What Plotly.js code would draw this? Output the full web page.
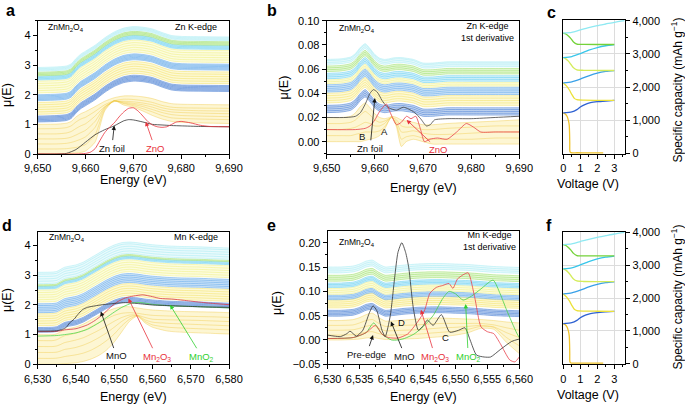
<!DOCTYPE html>
<html><head><meta charset="utf-8">
<script src="https://cdn.plot.ly/plotly-3.0.1.min.js"></script>
<style>html,body{margin:0;padding:0;background:#fff}#chart{width:685px;height:404px}</style>
</head><body><div id="chart"></div>
<script>
// ---------- Panel a: Zn K-edge XANES ----------
const E_A = [9650, 9654, 9656, 9657, 9658, 9659, 9660, 9662, 9664, 9666, 9668, 9670, 9672, 9674, 9676, 9678, 9680, 9684, 9690];
const SHAPE_A = [0, 0.02, 0.05, 0.12, 0.3, 0.45, 0.55, 0.75, 1.0, 1.2, 1.33, 1.38, 1.36, 1.3, 1.18, 1.08, 1.05, 1.04, 1.03];
const D1_A = [
  [0, 0, 0.01, 0.02, 0.03, 0.05, 0.1, 0.4, 1.45, 1.8, 1.65, 1.58, 1.45, 1.3, 1.18, 1.1, 1.07, 1.05, 1.03],
  [0.17, 0.17, 0.18, 0.2, 0.22, 0.26, 0.32, 0.65, 1.5, 1.8, 1.7, 1.63, 1.53, 1.42, 1.3, 1.22, 1.2, 1.18, 1.16],
  [0.34, 0.34, 0.36, 0.39, 0.44, 0.5, 0.58, 0.9, 1.55, 1.8, 1.72, 1.67, 1.6, 1.5, 1.4, 1.33, 1.3, 1.28, 1.26],
  [0.51, 0.51, 0.53, 0.57, 0.64, 0.72, 0.8, 1.1, 1.58, 1.78, 1.75, 1.71, 1.66, 1.58, 1.48, 1.42, 1.4, 1.38, 1.36],
  [0.68, 0.68, 0.71, 0.76, 0.86, 0.95, 1.02, 1.28, 1.6, 1.77, 1.78, 1.76, 1.72, 1.66, 1.56, 1.5, 1.48, 1.46, 1.45],
  [0.85, 0.86, 0.89, 0.95, 1.08, 1.18, 1.24, 1.44, 1.66, 1.8, 1.85, 1.84, 1.8, 1.74, 1.64, 1.58, 1.56, 1.55, 1.54],
  [1.0, 1.01, 1.04, 1.1, 1.25, 1.36, 1.43, 1.6, 1.78, 1.9, 1.96, 1.96, 1.93, 1.87, 1.77, 1.7, 1.68, 1.67, 1.66]
];
// stacked-band start values (C1, D2, C2, D3, C3, D4, C4)
const OFF_A = [
  [1.08, 1.12, 1.16, 1.20, 1.24, 1.28],
  [1.34, 1.42, 1.50, 1.58, 1.66, 1.74],
  [1.80, 1.84, 1.88, 1.92, 1.96, 2.00],
  [2.06, 2.14, 2.22, 2.30, 2.38, 2.46],
  [2.50, 2.54, 2.58, 2.62],
  [2.64, 2.68, 2.72, 2.76],
  [2.80, 2.84, 2.88, 2.92]
];
const ZNFOIL_A_E = [9650, 9654, 9656, 9658, 9660, 9662, 9664, 9666, 9668, 9669, 9670, 9672, 9674, 9676, 9678, 9680, 9684, 9690];
const ZNFOIL_A = [0, 0, 0.02, 0.15, 0.4, 0.65, 0.82, 0.95, 1.12, 1.16, 1.15, 1.08, 1.0, 0.98, 0.96, 0.95, 0.93, 0.92];
const ZNO_A_E = [9650, 9658, 9660, 9661, 9662, 9663, 9664, 9665, 9666, 9667, 9668, 9669, 9670, 9671, 9672, 9673, 9674, 9675, 9676, 9677, 9678, 9679, 9680, 9682, 9684, 9686, 9690];
const ZNO_A = [0, 0, 0.02, 0.06, 0.18, 0.45, 0.72, 0.9, 1.05, 1.25, 1.42, 1.54, 1.56, 1.45, 1.28, 1.1, 0.98, 0.92, 0.9, 0.92, 1.0, 1.08, 1.1, 1.05, 0.97, 0.93, 0.92];

// ---------- Panel b: Zn K-edge 1st derivative ----------
const E_B = [9650, 9653, 9655, 9656, 9657, 9658, 9659, 9660, 9661, 9662, 9663, 9663.5, 9664.5, 9665.5, 9666.5, 9668, 9670, 9672, 9675, 9680, 9685, 9690];
const SHAPE_B = [0, 0.0005, 0.002, 0.005, 0.010, 0.013, 0.009, 0.004, 0.001, 0.0, 0.0005, 0.001, 0.0015, 0.0015, 0.001, 0.0, -0.003, -0.003, -0.002, -0.002, -0.002, -0.002];
const D1_B = [
  [0, 0, 0, 0, 0, 0.001, 0.002, 0.003, 0.005, 0.01, 0.018, 0.021, 0.012, -0.004, 0.0, 0.002, 0.0, -0.002, -0.002, -0.002, -0.002, -0.002],
  [0.005, 0.005, 0.005, 0.006, 0.007, 0.008, 0.008, 0.008, 0.009, 0.012, 0.018, 0.02, 0.014, 0.002, 0.004, 0.005, 0.003, 0.002, 0.002, 0.002, 0.003, 0.003],
  [0.010, 0.010, 0.011, 0.012, 0.014, 0.016, 0.015, 0.013, 0.013, 0.015, 0.019, 0.02, 0.016, 0.008, 0.008, 0.009, 0.007, 0.006, 0.006, 0.007, 0.008, 0.008],
  [0.015, 0.015, 0.016, 0.018, 0.022, 0.025, 0.022, 0.018, 0.016, 0.017, 0.019, 0.02, 0.018, 0.013, 0.012, 0.012, 0.01, 0.01, 0.011, 0.012, 0.013, 0.013],
  [0.020, 0.020, 0.021, 0.024, 0.029, 0.032, 0.028, 0.023, 0.020, 0.019, 0.02, 0.021, 0.02, 0.018, 0.017, 0.016, 0.014, 0.014, 0.015, 0.016, 0.017, 0.018]
];
const OFF_B = [
  [0.024, 0.0255, 0.027, 0.0285, 0.030],
  [0.032, 0.034, 0.036, 0.038, 0.040],
  [0.041, 0.0425, 0.044, 0.0455, 0.047],
  [0.048, 0.0495, 0.051],
  [0.052, 0.0535, 0.055, 0.0565],
  [0.058, 0.0595, 0.061, 0.0625],
  [0.064, 0.0655, 0.067, 0.068]
];
const ZNFOIL_B_E = [9650, 9654, 9656, 9657, 9658, 9659, 9659.7, 9660.5, 9661.5, 9662.5, 9663.5, 9664.5, 9665.9, 9667, 9668.3, 9669.5, 9670.7, 9671.5, 9672.4, 9675, 9680, 9685, 9690];
const ZNFOIL_B = [0.020, 0.020, 0.021, 0.024, 0.031, 0.040, 0.043, 0.041, 0.034, 0.029, 0.027, 0.026, 0.0285, 0.027, 0.024, 0.019, 0.013, 0.014, 0.018, 0.019, 0.019, 0.020, 0.021];
const ZNO_B_E = [9650, 9656, 9658, 9659, 9660, 9661, 9662.4, 9663.2, 9664.5, 9665.5, 9666.6, 9667.5, 9668.5, 9669.5, 9670.3, 9671.4, 9673, 9675, 9677, 9679, 9680.5, 9682, 9685, 9690];
const ZNO_B = [0.010, 0.010, 0.011, 0.013, 0.018, 0.025, 0.031, 0.024, 0.014, 0.016, 0.021, 0.019, 0.021, 0.01, 0.0, 0.002, 0.003, 0.002, 0.008, 0.015, 0.012, 0.008, 0.008, 0.008];

// ---------- Panels c / f: voltage profiles (V, capacity mAh/g) ----------
const V_D1 = [2.35, 1.5, 0.8, 0.45, 0.39, 0.38, 0.37, 0.35, 0.3, 0.22, 0.12, 0.0];
const Q_D1 = [20, 20, 22, 25, 60, 300, 600, 850, 1000, 1120, 1190, 1224];
const V_C1 = [0, 0.5, 0.8, 1.0, 1.3, 1.6, 2.0, 2.5, 3.0];
const Q_C1 = [1224, 1250, 1320, 1400, 1480, 1530, 1560, 1580, 1597];
const V_D2 = [3.0, 2.0, 1.2, 0.8, 0.65, 0.5, 0.35, 0.2, 0];
const Q_D2 = [1597, 1600, 1605, 1620, 1660, 1780, 1920, 2030, 2125];
const V_C2 = [0, 0.5, 1.0, 1.5, 2.0, 2.5, 3.0];
const Q_C2 = [2126, 2160, 2240, 2340, 2420, 2470, 2497];
const V_D3 = [3.0, 2.0, 1.2, 0.8, 0.6, 0.45, 0.3, 0.15, 0];
const Q_D3 = [2500, 2500, 2505, 2520, 2580, 2680, 2780, 2850, 2890];
const V_C3 = [0, 0.5, 1.0, 1.5, 2.0, 2.5, 3.0];
const Q_C3 = [2890, 2920, 3010, 3110, 3190, 3245, 3279];
const V_D4 = [3.0, 2.0, 1.2, 0.8, 0.6, 0.45, 0.3, 0.15, 0];
const Q_D4 = [3282, 3282, 3285, 3295, 3360, 3460, 3540, 3600, 3625];
const V_C4 = [0, 0.5, 1.0, 1.5, 2.0, 2.5, 3.0, 3.6];
const Q_C4 = [3625, 3650, 3720, 3790, 3850, 3900, 3950, 4000];

// ---------- Panel d: Mn K-edge XANES ----------
const E_D = [6530, 6534, 6535, 6536, 6537, 6538, 6540, 6542, 6544, 6546, 6548, 6550, 6552, 6554, 6556, 6558, 6560, 6564, 6568, 6572, 6576, 6580];
const SHAPE_D = [0, 0.01, 0.03, 0.1, 0.17, 0.2, 0.25, 0.35, 0.5, 0.65, 0.8, 0.92, 1.0, 1.02, 1.0, 0.96, 0.93, 0.89, 0.87, 0.86, 0.84, 0.82];
const D1_D = [
  [0, 0, 0, 0.01, 0.02, 0.03, 0.05, 0.1, 0.18, 0.3, 0.48, 0.75, 1.1, 1.45, 1.62, 1.4, 1.25, 1.12, 1.08, 1.06, 1.04, 1.02],
  [0.2, 0.2, 0.21, 0.23, 0.26, 0.28, 0.32, 0.38, 0.48, 0.62, 0.8, 1.02, 1.3, 1.52, 1.64, 1.45, 1.33, 1.25, 1.22, 1.2, 1.18, 1.16],
  [0.4, 0.4, 0.41, 0.45, 0.5, 0.52, 0.57, 0.65, 0.76, 0.9, 1.06, 1.25, 1.45, 1.6, 1.65, 1.5, 1.42, 1.38, 1.36, 1.34, 1.32, 1.3],
  [0.6, 0.6, 0.62, 0.67, 0.73, 0.76, 0.82, 0.9, 1.02, 1.15, 1.3, 1.45, 1.58, 1.66, 1.66, 1.58, 1.52, 1.5, 1.49, 1.48, 1.46, 1.44],
  [0.8, 0.8, 0.83, 0.9, 0.96, 0.99, 1.05, 1.14, 1.27, 1.4, 1.53, 1.65, 1.72, 1.74, 1.72, 1.68, 1.65, 1.63, 1.62, 1.61, 1.6, 1.58],
  [1.0, 1.0, 1.03, 1.1, 1.17, 1.2, 1.26, 1.36, 1.5, 1.64, 1.78, 1.88, 1.94, 1.94, 1.9, 1.86, 1.83, 1.8, 1.78, 1.77, 1.76, 1.74]
];
const OFF_D = [
  [1.08, 1.12, 1.16, 1.20, 1.24],
  [1.30, 1.38, 1.46, 1.54, 1.62, 1.70],
  [1.74, 1.80, 1.86, 1.92, 1.98, 2.04],
  [2.10, 2.18, 2.26, 2.34, 2.42, 2.50],
  [2.54, 2.58, 2.62],
  [2.64, 2.68],
  [2.72, 2.80, 2.88, 2.96, 3.04, 3.10]
];
const MNO_D_E = [6530, 6535, 6536.5, 6537.5, 6538.3, 6539.5, 6540.5, 6541.7, 6543, 6545, 6547, 6550, 6553, 6556, 6560, 6564, 6570, 6575, 6580];
const MNO_D = [1.12, 1.13, 1.18, 1.25, 1.39, 1.52, 1.68, 1.84, 1.92, 1.97, 2.01, 2.05, 2.08, 2.05, 2.0, 1.98, 1.95, 1.93, 1.92];
const MN2O3_D_E = [6530, 6535, 6537, 6540, 6543, 6545, 6547, 6549, 6551, 6553, 6555, 6557.5, 6560, 6562, 6565, 6568, 6572, 6576, 6580];
const MN2O3_D = [1.1, 1.11, 1.16, 1.2, 1.33, 1.48, 1.68, 1.92, 2.12, 2.24, 2.3, 2.34, 2.28, 2.22, 2.2, 2.16, 2.1, 2.05, 2.01];
const MNO2_D_E = [6530, 6535, 6537, 6540, 6543, 6546, 6548, 6550, 6552, 6554.8, 6557, 6560, 6565, 6570, 6575, 6580];
const MNO2_D = [0.95, 0.97, 1.0, 1.06, 1.18, 1.4, 1.58, 1.76, 1.92, 2.07, 2.08, 2.02, 1.97, 1.95, 1.93, 1.9];

// ---------- Panel e: Mn K-edge 1st derivative ----------
const E_E = [6530, 6532, 6534, 6535, 6536, 6537, 6538, 6539, 6540, 6542, 6544, 6546, 6548, 6550, 6552, 6554, 6556, 6558, 6560];
const SHAPE_E = [0, 0, 0.002, 0.006, 0.012, 0.014, 0.006, 0.0, 0.001, 0.004, 0.006, 0.007, 0.007, 0.006, 0.005, 0.003, 0.001, 0.0, -0.001];
const D1_E = [
  [0.0, 0.0, 0.001, 0.002, 0.004, 0.005, 0.003, 0.001, 0.001, 0.002, 0.003, 0.005, 0.007, 0.01, 0.015, 0.024, 0.022, -0.005, -0.028],
  [0.01, 0.01, 0.011, 0.013, 0.016, 0.017, 0.013, 0.01, 0.01, 0.011, 0.012, 0.014, 0.016, 0.018, 0.022, 0.028, 0.026, 0.005, -0.012],
  [0.02, 0.02, 0.021, 0.024, 0.028, 0.03, 0.024, 0.019, 0.019, 0.02, 0.021, 0.023, 0.025, 0.026, 0.028, 0.03, 0.027, 0.015, 0.005],
  [0.03, 0.03, 0.031, 0.035, 0.04, 0.042, 0.034, 0.028, 0.028, 0.03, 0.031, 0.033, 0.034, 0.034, 0.034, 0.034, 0.031, 0.025, 0.02],
  [0.04, 0.04, 0.042, 0.046, 0.052, 0.055, 0.046, 0.039, 0.039, 0.041, 0.043, 0.045, 0.045, 0.044, 0.043, 0.042, 0.04, 0.037, 0.035]
];
const OFF_E = [
  [0.049, 0.052, 0.055, 0.058, 0.061],
  [0.066, 0.070, 0.074, 0.078, 0.082],
  [0.083, 0.086, 0.089, 0.092],
  [0.094, 0.098, 0.102, 0.106],
  [0.108, 0.111, 0.114, 0.117],
  [0.121, 0.125, 0.129, 0.133],
  [0.138, 0.142, 0.146, 0.150]
];
const MNO_E_E = [6530, 6531, 6532, 6533, 6533.5, 6534.5, 6535.5, 6536.5, 6537.1, 6537.7, 6538.5, 6539, 6539.8, 6540.5, 6541, 6541.6, 6542.2, 6542.7, 6543.4, 6544.2, 6545, 6545.6, 6546.5, 6547.8, 6549.1, 6550.5, 6551.5, 6552.3, 6553.3, 6554.5, 6555.5, 6557, 6558.8, 6560];
const MNO_E = [0.010, 0.008, 0.007, 0.013, 0.018, 0.008, 0.02, 0.055, 0.070, 0.060, 0.02, 0.007, 0.05, 0.13, 0.18, 0.20, 0.18, 0.148, 0.066, 0.02, 0.03, 0.041, 0.03, 0.052, 0.016, 0.02, 0.025, 0.0, -0.031, -0.035, -0.035, -0.02, -0.003, 0.002];
const MN2O3_E_E = [6530, 6534, 6536, 6537.5, 6538.5, 6539.5, 6541, 6542.5, 6543.5, 6544.5, 6545.2, 6546, 6547, 6548, 6549, 6549.6, 6550.3, 6551.2, 6552, 6553, 6554, 6555, 6556, 6557, 6558.5, 6559.3, 6560];
const MN2O3_E = [0.003, 0.005, 0.015, 0.03, 0.012, 0.005, 0.004, 0.012, 0.027, 0.045, 0.062, 0.096, 0.108, 0.112, 0.116, 0.106, 0.125, 0.134, 0.138, 0.089, 0.027, 0.017, 0.013, -0.007, -0.041, -0.045, -0.035];
const MNO2_E_E = [6530, 6534, 6536, 6537.2, 6538.5, 6540, 6541, 6542, 6543.5, 6545, 6546.5, 6548, 6549, 6550, 6551.2, 6552.5, 6554, 6555.9, 6557, 6558, 6559.6, 6560];
const MNO2_E = [0.003, 0.005, 0.015, 0.035, 0.012, 0.0, 0.0, 0.003, 0.012, 0.028, 0.05, 0.085, 0.1, 0.095, 0.082, 0.09, 0.105, 0.123, 0.095, 0.062, 0.014, 0.005];

// ---------- styling ----------
const FONT = 'Liberation Sans, Arial, Helvetica, sans-serif';
const D1_COLOR = 'rgba(240,198,60,0.65)', D1_FILL = 'rgba(250,228,120,0.33)';
const BAND_COLORS = ['rgba(45,105,205,0.8)', 'rgba(240,218,70,0.7)', 'rgba(65,150,228,0.75)', 'rgba(236,236,110,0.75)', 'rgba(60,195,238,0.7)', 'rgba(135,215,75,0.75)', 'rgba(150,232,242,0.75)'];
const BAND_FILLS = ['rgba(95,145,220,0.33)', 'rgba(250,238,135,0.35)', 'rgba(115,180,238,0.33)', 'rgba(246,246,160,0.35)', 'rgba(120,212,242,0.3)', 'rgba(180,235,130,0.3)', 'rgba(195,242,247,0.35)'];
const VC_COLORS = ['#efc22a', '#2f62d2', '#ebe13a', '#38a0e8', '#d4ec5a', '#38c6ea', '#74d23a', '#8ee9f2'];

const traces = [];
function ln(xa, ya, x, y, color, width, extra) {
  return Object.assign({x, y, xaxis: xa, yaxis: ya, type: 'scatter', mode: 'lines',
    line: {color, width, shape: 'spline', smoothing: 0.6}, hoverinfo: 'skip', showlegend: false}, extra || {});
}
function band(xa, ya, x, rows, color, fill) {
  traces.push(ln(xa, ya, x, rows[0], color, 0.6));
  traces.push(ln(xa, ya, x, rows[rows.length - 1], color, 0.6, {fill: 'tonexty', fillcolor: fill}));
  for (let i = 1; i < rows.length - 1; i++) traces.push(ln(xa, ya, x, rows[i], color, 0.6));
}
function stacked(shape, offs) { return offs.map(o => shape.map(s => +(s + o).toFixed(5))); }
function spectra(xa, ya, x, d1, shape, offsets) {
  band(xa, ya, x, d1, D1_COLOR, D1_FILL);
  offsets.forEach((offs, i) => band(xa, ya, x, stacked(shape, offs), BAND_COLORS[i], BAND_FILLS[i]));
}

// a
spectra('x', 'y', E_A, D1_A, SHAPE_A, OFF_A);
traces.push(ln('x', 'y', ZNFOIL_A_E, ZNFOIL_A, '#333333', 0.8));
traces.push(ln('x', 'y', ZNO_A_E, ZNO_A, '#e8323c', 0.8));
// b
spectra('x2', 'y2', E_B, D1_B, SHAPE_B, OFF_B);
traces.push(ln('x2', 'y2', ZNFOIL_B_E, ZNFOIL_B, '#444444', 0.8));
traces.push(ln('x2', 'y2', ZNO_B_E, ZNO_B, '#e8404a', 0.8));
// c & f
const VSEG = [[V_D1, Q_D1], [V_C1, Q_C1], [V_D2, Q_D2], [V_C2, Q_C2], [V_D3, Q_D3], [V_C3, Q_C3], [V_D4, Q_D4], [V_C4, Q_C4]];
[['x3', 'y3'], ['x6', 'y6']].forEach(([xa, ya]) => {
  VSEG.forEach(([v, q], i) => traces.push(ln(xa, ya, v, q, VC_COLORS[i], 1.3)));
});
// d
spectra('x4', 'y4', E_D, D1_D, SHAPE_D, OFF_D);
traces.push(ln('x4', 'y4', MNO2_D_E, MNO2_D, '#50d850', 0.8));
traces.push(ln('x4', 'y4', MN2O3_D_E, MN2O3_D, '#d8384a', 0.8));
traces.push(ln('x4', 'y4', MNO_D_E, MNO_D, '#333333', 0.8));
// e
spectra('x5', 'y5', E_E, D1_E, SHAPE_E, OFF_E);
traces.push(ln('x5', 'y5', MNO2_E_E, MNO2_E, '#48d048', 0.8));
traces.push(ln('x5', 'y5', MN2O3_E_E, MN2O3_E, '#e8404a', 0.8));
traces.push(ln('x5', 'y5', MNO_E_E, MNO_E, '#333333', 0.8));

// ---------- axes ----------
const W = 685, H = 404;
const px = (a, b) => [a / W, b / W];
const py = (top, bot) => [1 - bot / H, 1 - top / H];
function ax(domain, range, anchor, dtick, tick0, minorD, fmt, extra) {
  return Object.assign({domain, range, anchor, dtick, tick0, tickformat: fmt, ticks: 'outside', ticklen: 4,
    tickwidth: 1, tickcolor: '#000', showline: true, linecolor: '#000', linewidth: 1, mirror: true,
    showgrid: false, zeroline: false, automargin: false, fixedrange: true,
    tickfont: {family: FONT, size: 11, color: '#000'},
    minor: {ticks: 'outside', ticklen: 2, dtick: minorD, tick0, tickcolor: '#000', tickwidth: 1, showgrid: false}}, extra || {});
}
const gridX = {showgrid: true, gridcolor: '#dcdcdc', gridwidth: 1};
const layout = {
  width: W, height: H, margin: {l: 0, r: 0, t: 0, b: 0}, showlegend: false,
  paper_bgcolor: '#fff', plot_bgcolor: '#fff', font: {family: FONT, color: '#000'},
  xaxis: ax(px(37.7, 229), [9650, 9690], 'y', 10, 9650, 5, ',d'),
  yaxis: ax(py(20.7, 154), [0, 4.5], 'x', 1, 0, 0.5, 'd'),
  xaxis2: ax(px(326.7, 519.3), [9650, 9690], 'y2', 10, 9650, 5, ',d'),
  yaxis2: ax(py(20.7, 154), [-0.0102, 0.1], 'x2', 0.02, 0, 0.01, '.2f'),
  xaxis3: ax(px(562.7, 625.3), [-0.035, 3.65], 'y3', 1, 0, 0.5, 'd', gridX),
  yaxis3: ax(py(20, 154), [-15, 4020], 'x3', 1000, 0, 500, ',d', Object.assign({side: 'right'}, gridX)),
  xaxis4: ax(px(37.7, 229), [6530, 6580], 'y4', 10, 6530, 5, ',d'),
  yaxis4: ax(py(231.7, 364.3), [0, 4.47], 'x4', 1, 0, 0.5, 'd'),
  xaxis5: ax(px(327.7, 519.3), [6530, 6560], 'y5', 5, 6530, 2.5, ',d'),
  yaxis5: ax(py(231, 364.3), [-0.05, 0.224], 'x5', 0.05, 0, 0.025, '.2f'),
  xaxis6: ax(px(562.7, 625.3), [-0.035, 3.65], 'y6', 1, 0, 0.5, 'd', gridX),
  yaxis6: ax(py(231.7, 364.3), [-15, 4020], 'x6', 1000, 0, 500, ',d', Object.assign({side: 'right'}, gridX))
};

// ---------- annotations ----------
const ann = [];
function ptxt(x, y, text, size, opts) {
  ann.push(Object.assign({xref: 'paper', yref: 'paper', x: x / W, y: 1 - y / H, text, showarrow: false,
    font: {family: FONT, size, color: '#000'}, xanchor: 'center', yanchor: 'middle'}, opts || {}));
}
function dtxt(xr, yr, x, y, text, color) {
  ann.push({xref: xr, yref: yr, x, y, text, showarrow: false, font: {family: FONT, size: 9.5, color}, xanchor: 'center', yanchor: 'middle'});
}
function arrow(xr, yr, tx, ty, hx, hy, text, color) {
  ann.push({xref: xr, yref: yr, axref: xr, ayref: yr, x: hx, y: hy, ax: tx, ay: ty, text, showarrow: true,
    arrowhead: 2, arrowsize: 1.1, arrowwidth: 0.8, arrowcolor: color, standoff: 0, startstandoff: 1,
    font: {family: FONT, size: 9.5, color}});
}
// panel letters
[['a', 10, 10], ['b', 272, 10], ['c', 551, 12], ['d', 7, 225], ['e', 271, 225], ['f', 549, 225]]
  .forEach(([t, x, y]) => ptxt(x, y, '<b>' + t + '</b>', 16));
// axis titles
ptxt(133.3, 180, 'Energy (eV)', 12.5);
ptxt(423, 188, 'Energy (eV)', 12.5);
ptxt(588.3, 183.5, 'Voltage (V)', 12.5);
ptxt(133.3, 396.5, 'Energy (eV)', 12.5);
ptxt(423.5, 396.5, 'Energy (eV)', 12.5);
ptxt(588.3, 395, 'Voltage (V)', 12.5);
ptxt(7, 95, 'μ(E)', 12.5, {textangle: -90});
ptxt(283.5, 88, 'μ(E)', 12.5, {textangle: -90});
ptxt(7, 300, 'μ(E)', 12.5, {textangle: -90});
ptxt(277, 303, 'μ(E)', 12.5, {textangle: -90});
ptxt(676.5, 90, 'Specific capacity (mAh g<sup>−1</sup>)', 12, {textangle: -90});
ptxt(676.5, 297, 'Specific capacity (mAh g<sup>−1</sup>)', 12, {textangle: -90});
// in-panel labels
const ZMO = 'ZnMn<sub>2</sub>O<sub>4</sub>';
ptxt(46, 27, ZMO, 8.5, {xanchor: 'left'});
ptxt(219, 27, 'Zn K-edge', 9, {xanchor: 'right'});
ptxt(336.7, 28, ZMO, 8.5, {xanchor: 'left'});
ptxt(487, 32, 'Zn K-edge<br>1st derivative', 9, {align: 'center'});
ptxt(46.7, 237.3, ZMO, 8.5, {xanchor: 'left'});
ptxt(220, 236.7, 'Mn K-edge', 9, {xanchor: 'right'});
ptxt(336.7, 242.7, ZMO, 8.5, {xanchor: 'left'});
ptxt(489, 240.8, 'Mn K-edge<br>1st derivative', 9, {align: 'center'});
// arrows a
arrow('x', 'y', 9665.5, 0.2, 9666, 0.96, 'Zn foil', '#111');
arrow('x', 'y', 9674.5, 0.2, 9672.6, 1.09, 'ZnO', '#e8323c');
// arrows b
arrow('x2', 'y2', 9659, -0.0055, 9660, 0.036, 'Zn foil', '#111');
arrow('x2', 'y2', 9673.2, -0.0065, 9666.6, 0.018, 'ZnO', '#e8323c');
dtxt('x2', 'y2', 9657.3, 0.004, 'B', '#111');
dtxt('x2', 'y2', 9662.1, 0.0088, 'A', '#111');
// arrows d
arrow('x4', 'y4', 6550.6, 0.28, 6546.5, 1.78, 'MnO', '#111');
arrow('x4', 'y4', 6561.1, 0.26, 6553.7, 2.22, 'Mn<sub>2</sub>O<sub>3</sub>', '#e8323c');
arrow('x4', 'y4', 6572.9, 0.26, 6564.6, 2.0, 'MnO<sub>2</sub>', '#30d030');
// arrows e
arrow('x5', 'y5', 6536.1, -0.029, 6537.1, 0.010, 'Pre-edge', '#111');
arrow('x5', 'y5', 6542.1, -0.033, 6539.9, 0.038, 'MnO', '#111');
arrow('x5', 'y5', 6546.8, -0.034, 6544.6, 0.062, 'Mn<sub>2</sub>O<sub>3</sub>', '#e8323c');
arrow('x5', 'y5', 6552, -0.034, 6551.6, 0.074, 'MnO<sub>2</sub>', '#30d030');
dtxt('x5', 'y5', 6541.5, 0.0355, 'D', '#111');
dtxt('x5', 'y5', 6548.4, 0.0055, 'C', '#111');
layout.annotations = ann;

Plotly.newPlot('chart', traces, layout, {staticPlot: true, displayModeBar: false});
</script></body></html>
